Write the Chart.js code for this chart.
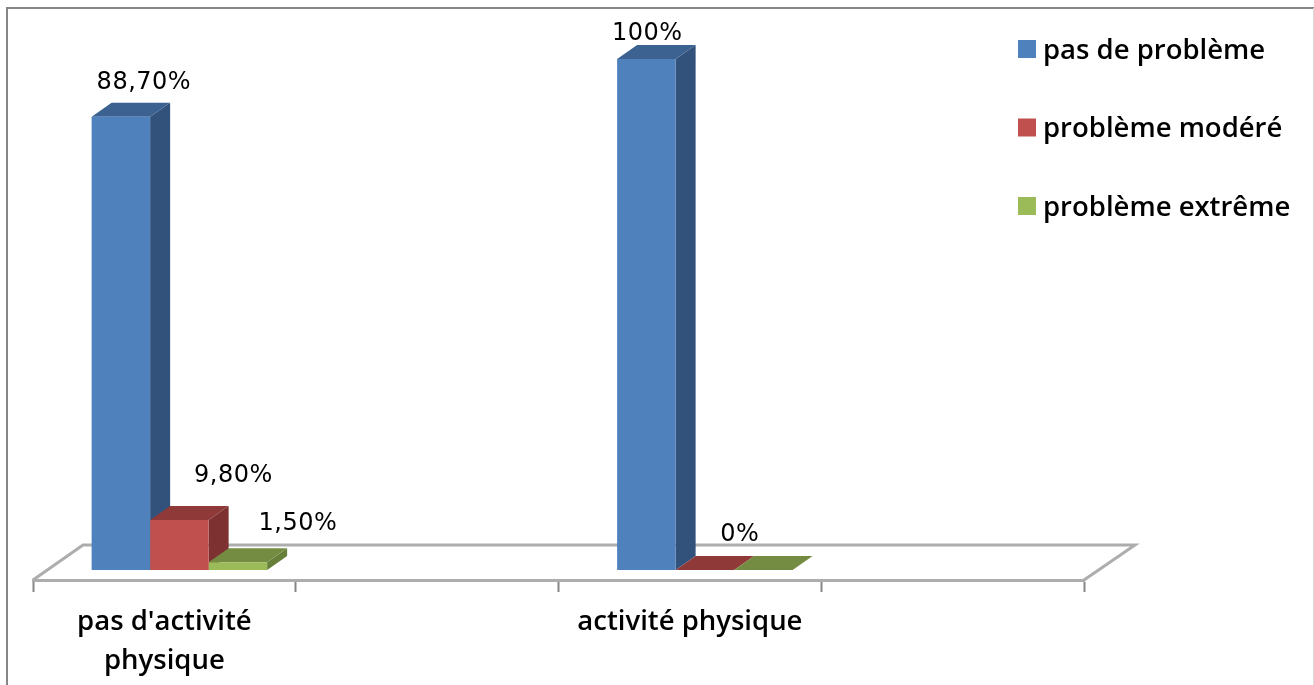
<!DOCTYPE html>
<html>
<head>
<meta charset="utf-8">
<title>Activité physique</title>
<script src="https://cdn.jsdelivr.net/npm/chart.js@4/dist/chart.umd.js"></script>
<style>
    html, body { margin: 0; padding: 0; background: #fff; overflow: hidden; }
    canvas { display: block; }
</style>
</head>
<body>
<canvas id="chart" width="1314" height="685"></canvas>
<script>
// Values (the 2nd and 4th categories are empty in the original)
const categories = [["pas d'activité", 'physique'], '', 'activité physique', ''];
const seriesNames = ['pas de problème', 'problème modéré', 'problème extrême'];
const noProblem = [88.7, null, 100, null];
const moderate = [9.8, null, 0, null];
const extreme = [1.5, null, 0, null];
const noProblemLabels = ['88,70%', null, '100%', null];
const moderateLabels = ['9,80%', null, '0%', null];
const extremeLabels = ['1,50%', null, null, null];

const labelFont = '24px "DejaVu Sans"';
const textFont = '600 27.5px "Open Sans"';

// Oblique projection of the 3D look
const shiftX = 15, shiftY = -10;
const depthX = 20, depthY = -14;

const faces = [
    { front: '#4F81BD', top: '#3B6291', side: '#32527C' },
    { front: '#C0504D', top: '#8F3A38', side: '#7D3130' },
    { front: '#9BBB59', top: '#748C42', side: '#66803A' }
];

// Hand placed in the original, so offsets from the top centre of each bar
const labelOffsets = [
    [[23, -34], null, [1, -25], null],
    [[54, -44], null, [35, -35], null],
    [[60, -39], null, null, null]
];
const labelTexts = [noProblemLabels, moderateLabels, extremeLabels];

const scene3d = {
    id: 'scene3d',
    beforeDraw(chart) {
        const ctx = chart.ctx;
        const a = chart.chartArea;

        // Outer frame, cut off at the bottom
        ctx.save();
        ctx.strokeStyle = '#868686';
        ctx.lineWidth = 2;
        ctx.beginPath();
        ctx.moveTo(7, 685);
        ctx.lineTo(7, 8);
        ctx.lineTo(1314, 8);
        ctx.stroke();
        ctx.strokeStyle = '#d9d9d9';
        ctx.lineWidth = 1;
        ctx.beginPath();
        ctx.moveTo(1313.5, 8);
        ctx.lineTo(1313.5, 685);
        ctx.stroke();

        // Floor
        ctx.strokeStyle = '#adadad';
        ctx.lineWidth = 3;
        ctx.beginPath();
        ctx.moveTo(a.left, a.bottom);
        ctx.lineTo(a.left + 50, a.bottom - 35);
        ctx.lineTo(a.right + 51, a.bottom - 35);
        ctx.lineTo(a.right, a.bottom);
        ctx.stroke();
        ctx.restore();
    },
    beforeDatasetsDraw(chart) {
        const ctx = chart.ctx;
        ctx.save();
        ctx.translate(shiftX, shiftY);
        // Top and side faces go first, the library draws the fronts over them
        chart.data.datasets.forEach((ds, i) => {
            chart.getDatasetMeta(i).data.forEach((bar, j) => {
                if (ds.data[j] === null) return;
                const p = bar.getProps(['x', 'y', 'base', 'width'], true);
                const x0 = p.x - p.width / 2;
                const x1 = p.x + p.width / 2;
                ctx.fillStyle = faces[i].side;
                ctx.beginPath();
                ctx.moveTo(x1, p.y);
                ctx.lineTo(x1 + depthX, p.y + depthY);
                ctx.lineTo(x1 + depthX, p.base + depthY);
                ctx.lineTo(x1, p.base);
                ctx.closePath();
                ctx.fill();
                ctx.fillStyle = faces[i].top;
                ctx.beginPath();
                ctx.moveTo(x0, p.y);
                ctx.lineTo(x0 + depthX, p.y + depthY);
                ctx.lineTo(x1 + depthX, p.y + depthY);
                ctx.lineTo(x1, p.y);
                ctx.closePath();
                ctx.fill();
            });
        });
    },
    afterDatasetsDraw(chart) {
        const ctx = chart.ctx;
        ctx.restore();

        // Data labels
        ctx.save();
        ctx.font = labelFont;
        ctx.letterSpacing = '0.5px';
        ctx.fillStyle = '#000';
        ctx.textAlign = 'center';
        ctx.textBaseline = 'middle';
        chart.data.datasets.forEach((ds, i) => {
            chart.getDatasetMeta(i).data.forEach((bar, j) => {
                const text = labelTexts[i][j];
                if (!text) return;
                const p = bar.getProps(['x', 'y'], true);
                const off = labelOffsets[i][j];
                ctx.fillText(text, p.x + shiftX + off[0], p.y + shiftY + off[1]);
            });
        });

        // Legend
        ctx.letterSpacing = '0px';
        ctx.font = textFont;
        ctx.textAlign = 'left';
        chart.data.datasets.forEach((ds, i) => {
            const cy = 49 + i * 78.5;
            ctx.fillStyle = ds.backgroundColor;
            ctx.fillRect(1018, cy - 9, 18, 18);
            ctx.fillStyle = '#000';
            ctx.fillText(ds.label, 1043, cy + 2);
        });
        ctx.restore();
    }
};

new Chart(document.getElementById('chart'), {
    type: 'bar',
    data: {
        labels: categories,
        datasets: [
            { label: seriesNames[0], data: noProblem, backgroundColor: faces[0].front },
            { label: seriesNames[1], data: moderate, backgroundColor: faces[1].front },
            { label: seriesNames[2], data: extreme, backgroundColor: faces[2].front }
        ]
    },
    options: {
        responsive: false,
        animation: false,
        layout: { padding: { left: 33, right: 230, top: 69, bottom: 0 } },
        datasets: { bar: { categoryPercentage: 0.668, barPercentage: 1 } },
        plugins: { legend: { display: false }, tooltip: { enabled: false } },
        scales: {
            x: {
                afterFit(scale) { scale.height = 105; },
                border: { color: '#adadad', width: 3 },
                grid: { color: '#868686', drawOnChartArea: false, tickLength: 12, tickWidth: 2 },
                ticks: {
                    color: '#000',
                    font: { family: 'Open Sans', size: 27.5, weight: '600', lineHeight: 1.4 },
                    autoSkip: false,
                    maxRotation: 0,
                    padding: 11
                }
            },
            y: { display: false, min: 0, max: 100 }
        }
    },
    plugins: [scene3d]
});
</script>
</body>
</html>
